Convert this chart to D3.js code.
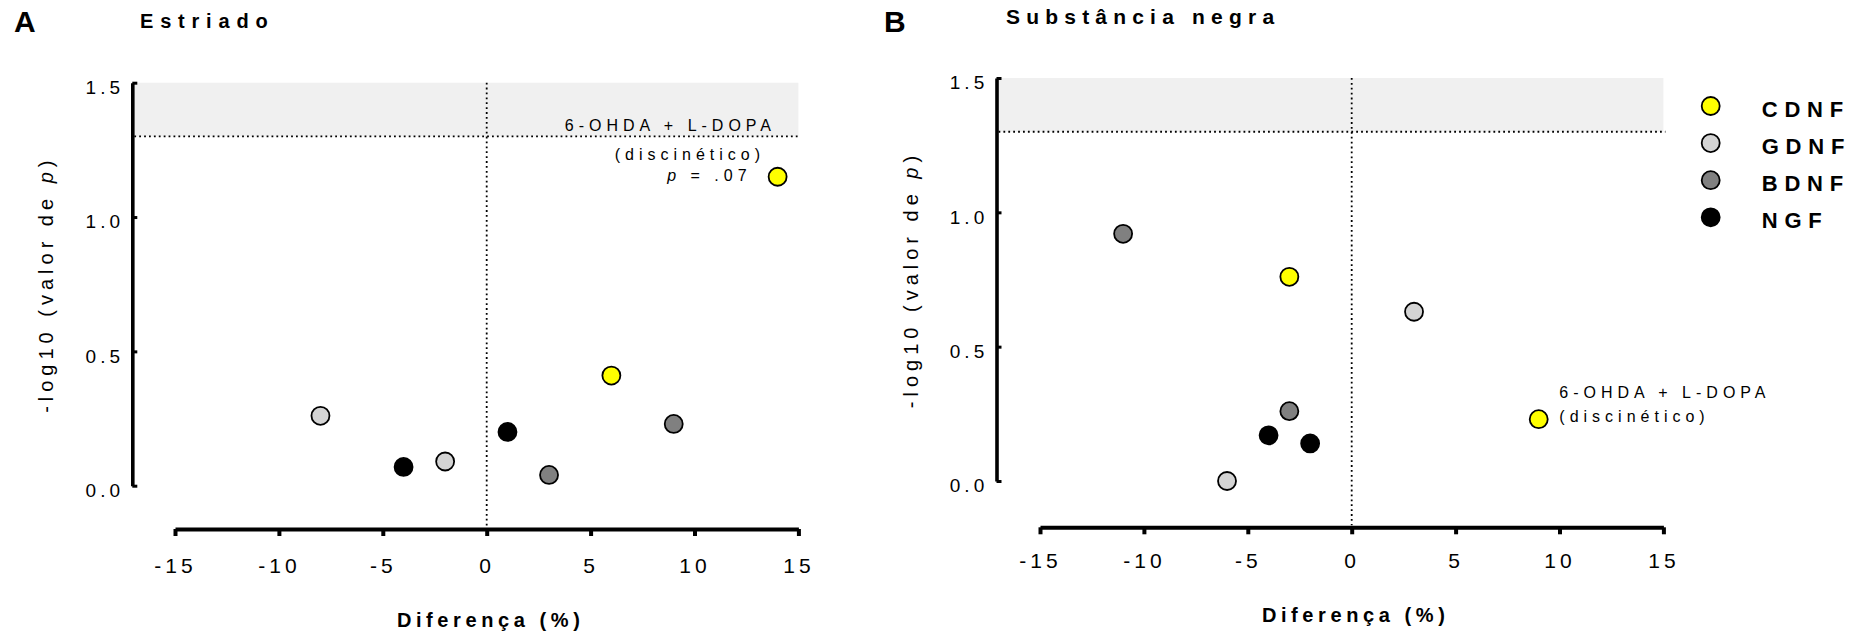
<!DOCTYPE html>
<html>
<head>
<meta charset="utf-8">
<script src="https://cdn.jsdelivr.net/npm/d3@7"></script>
<style>
  html, body { margin: 0; padding: 0; background: #fff; }
  svg { display: block; font-family: "Liberation Sans", Arial, sans-serif; }
</style>
</head>
<body>
<svg id="chart" width="1857" height="635"></svg>
<script>
(function () {
  'use strict';

  // factors and legend
  const factors = ["CDNF", "GDNF", "BDNF", "NGF"];
  const factorFill = ["#ffff00", "#d4d4d4", "#808080", "#000000"];

  const xTicks = [-15, -10, -5, 0, 5, 10, 15];
  const yTicks = [0, 0.5, 1.0, 1.5];
  const threshold = 1.3; // p = .05

  // Estriado
  const striatumFactor = ["CDNF", "CDNF", "GDNF", "GDNF", "BDNF", "BDNF", "NGF", "NGF"];
  const striatumDiff = [14, 6, -8, -2, 9, 3, -4, 1];
  const striatumLogP = [1.15, 0.41, 0.26, 0.09, 0.23, 0.04, 0.07, 0.20];

  // Substância negra
  const nigraFactor = ["CDNF", "CDNF", "GDNF", "GDNF", "BDNF", "BDNF", "NGF", "NGF"];
  const nigraDiff = [9, -3, 3, -6, -11, -3, -4, -2];
  const nigraLogP = [0.23, 0.76, 0.63, 0.0, 0.92, 0.26, 0.17, 0.14];

  const noteLines = ["6-OHDA + L-DOPA", "(discinético)"];
  const noteP = ".07";

  const svg = d3.select("#chart");
  const color = d3.scaleOrdinal(factors, factorFill);
  const R = 9;

  const panels = [
    {
      letter: "A", title: "Estriado", letterX: 14, letterY: 32.3,
      titleX: 140, titleY: 28, titleSize: 20, titleSpacing: 6.8,
      left: 175, right: 798.4, bottom: 485.7, top: 82.7, yAxisX: 132.3, xAxisY: 529,
      tickBase: 43.7, labelBase: 98.3,
      factor: striatumFactor, diff: striatumDiff, logp: striatumLogP
    },
    {
      letter: "B", title: "Substância negra", letterX: 884, letterY: 32.3,
      titleX: 1006, titleY: 23.5, titleSize: 21, titleSpacing: 6.2,
      left: 1040, right: 1663.4, bottom: 481, top: 78, yAxisX: 996.5, xAxisY: 527.3,
      tickBase: 40.7, labelBase: 94.4,
      factor: nigraFactor, diff: nigraDiff, logp: nigraLogP
    }
  ];

  panels.forEach(drawPanel);
  drawLegend();

  function dotted(sel) {
    sel.attr("stroke", "#000")
      .attr("stroke-width", 1.8)
      .attr("stroke-dasharray", "1.8,3.1");
  }

  function drawPanel(p, idx) {
    const x = d3.scaleLinear().domain([-15, 15]).range([p.left, p.right]);
    const y = d3.scaleLinear().domain([0, 1.5]).range([p.bottom, p.top]);
    const g = svg.append("g");

    g.append("text")
      .attr("x", p.letterX).attr("y", p.letterY)
      .attr("font-size", 30).attr("font-weight", "bold")
      .text(p.letter);
    g.append("text")
      .attr("x", p.titleX).attr("y", p.titleY)
      .attr("font-size", p.titleSize).attr("font-weight", "bold")
      .style("letter-spacing", p.titleSpacing + "px")
      .text(p.title);

    // significance region
    g.append("rect")
      .attr("x", p.yAxisX).attr("y", y(1.5))
      .attr("width", x(15) - p.yAxisX)
      .attr("height", y(threshold) - y(1.5))
      .attr("fill", "#f0f0f0");

    g.append("line")
      .attr("x1", p.yAxisX + 2).attr("x2", x(15) + 2)
      .attr("y1", y(threshold)).attr("y2", y(threshold))
      .call(dotted);
    g.append("line")
      .attr("x1", x(0)).attr("x2", x(0))
      .attr("y1", y(1.5)).attr("y2", p.xAxisY - 2)
      .call(dotted);

    // x axis
    const xa = g.append("g")
      .attr("transform", `translate(0,${p.xAxisY})`)
      .call(d3.axisBottom(x).tickValues(xTicks).tickFormat(d => String(d))
        .tickSizeInner(7).tickSizeOuter(0));
    xa.select(".domain").attr("stroke-width", 4);
    xa.selectAll(".tick line").attr("stroke-width", 4);
    xa.selectAll(".tick text")
      .attr("y", p.tickBase).attr("dy", null)
      .attr("font-size", 21)
      .attr("font-family", "Liberation Sans, Arial, sans-serif")
      .attr("fill", "#000")
      .style("letter-spacing", "4px");

    // y axis
    const ya = g.append("g")
      .attr("transform", `translate(${p.yAxisX},0)`)
      .call(d3.axisLeft(y).tickValues(yTicks).tickFormat(d3.format(".1f"))
        .tickSizeInner(-5).tickSizeOuter(0).tickPadding(8.3));
    ya.select(".domain").attr("stroke-width", 3.6);
    ya.selectAll(".tick line").attr("stroke-width", 3);
    ya.selectAll(".tick text")
      .attr("y", 10.7).attr("dy", null)
      .attr("font-size", 19)
      .attr("font-family", "Liberation Sans, Arial, sans-serif")
      .attr("fill", "#000")
      .style("letter-spacing", "4px");

    // axis titles
    g.append("text")
      .attr("x", x(0) + 4).attr("y", p.xAxisY + p.labelBase)
      .attr("text-anchor", "middle")
      .attr("font-size", 20).attr("font-weight", "bold")
      .style("letter-spacing", "4.6px")
      .text("Diferença (%)");

    const yl = g.append("text")
      .attr("transform", `translate(${p.yAxisX - 79},${y(0.75)}) rotate(-90)`)
      .attr("text-anchor", "middle")
      .attr("font-size", 20)
      .style("letter-spacing", "5px");
    yl.append("tspan").text("-log10 (valor de ");
    yl.append("tspan").attr("font-style", "italic").text("p");
    yl.append("tspan").text(")");

    // points
    const pts = p.diff.map((d, i) => ({ diff: d, logp: p.logp[i], factor: p.factor[i] }));
    g.selectAll("circle.pt")
      .data(pts)
      .join("circle")
      .attr("class", "pt")
      .attr("cx", d => x(d.diff))
      .attr("cy", d => y(d.logp))
      .attr("r", R)
      .attr("fill", d => color(d.factor))
      .attr("stroke", "#000")
      .attr("stroke-width", 1.8);

    // dyskinetic note, next to the first point
    const px = x(pts[0].diff), py = y(pts[0].logp);
    const note = g.append("g")
      .attr("font-size", 16)
      .style("letter-spacing", "5px");
    if (idx === 0) {
      note.append("text").attr("x", px - 1.6).attr("y", py - 45.7)
        .attr("text-anchor", "end").text(noteLines[0]);
      note.append("text").attr("x", px - 12.6).attr("y", py - 16.7)
        .attr("text-anchor", "end").text(noteLines[1]);
      const pl = note.append("text").attr("x", px - 26).attr("y", py + 4.3)
        .attr("text-anchor", "end");
      pl.append("tspan").attr("font-style", "italic").text("p");
      pl.append("tspan").text(" = " + noteP);
    } else {
      note.append("text").attr("x", px + 20.6).attr("y", py - 21.5).text(noteLines[0]);
      note.append("text").attr("x", px + 20.6).attr("y", py + 2.5).text(noteLines[1]);
    }
  }

  function drawLegend() {
    const lg = svg.append("g").attr("transform", "translate(1710.7,106)");
    const item = lg.selectAll("g")
      .data(factors)
      .join("g")
      .attr("transform", (d, i) => `translate(0,${i * 37.1})`);
    item.append("circle")
      .attr("r", R)
      .attr("fill", d => color(d))
      .attr("stroke", "#000")
      .attr("stroke-width", 1.8);
    item.append("text")
      .attr("x", 51).attr("y", 10.7)
      .attr("font-size", 22).attr("font-weight", "bold")
      .style("letter-spacing", "6.8px")
      .text(d => d);
  }

})();
</script>
</body>
</html>
